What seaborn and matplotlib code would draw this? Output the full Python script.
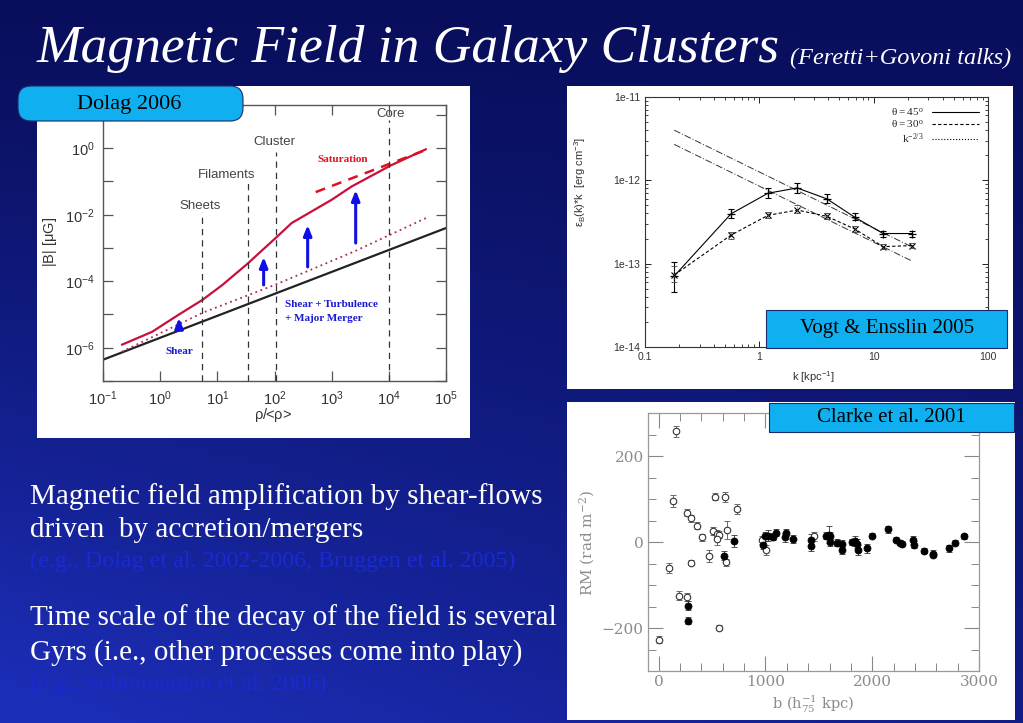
import numpy as np
import matplotlib
matplotlib.use('Agg')
import matplotlib.pyplot as plt
from matplotlib.patches import Rectangle, FancyBboxPatch
from matplotlib.lines import Line2D
from matplotlib.ticker import FuncFormatter, FixedLocator, NullLocator, NullFormatter, LogLocator, MultipleLocator
import seaborn as sns

W, H = 1023, 723

# Dolag 2006 panel, values as log10(rho/<rho>) and log10(|B| / muG) ----------
rho_red = [-0.67, -0.14, 0.32, 0.74, 1.09, 1.53, 1.79, 2.02, 2.30, 2.60, 3.00, 3.35, 4.03, 4.65]
b_red = [-5.91, -5.52, -5.01, -4.56, -4.11, -3.47, -3.06, -2.70, -2.25, -1.95, -1.55, -1.15, -0.52, -0.03]
rho_dot = [-0.67, 0.74, 2.02, 3.40, 4.65]
b_dot = [-6.12, -4.95, -4.10, -3.10, -2.10]
rho_black = [-1.0, 5.0]
b_black = [-6.36, -2.40]
rho_sat = [2.72, 4.68]
b_sat = [-1.32, -0.03]
arrow_rho = [0.33, 1.81, 2.58, 3.42]
arrow_from = [-5.37, -4.11, -3.57, -2.85]
arrow_to = [-5.10, -3.27, -2.31, -1.26]
regions = ['Sheets', 'Filaments', 'Cluster', 'Core']
region_rho = [0.74, 1.53, 2.03, 4.00]
region_top = [-1.92, -1.02, -0.10, 0.85]
region_lab_x = [0.70, 1.16, 2.00, 4.03]
region_lab_y = [-1.75, -0.81, 0.18, 1.03]

# Vogt & Ensslin 2005 panel -------------------------------------------------
k_pts = [0.18, 0.565, 1.19, 2.14, 3.89, 6.85, 12.1, 21.8]
e45 = [7.1e-14, 3.96e-13, 7.0e-13, 8.1e-13, 6.0e-13, 3.6e-13, 2.3e-13, 2.3e-13]
e45_lo = [4.6e-14, 3.5e-13, 6.1e-13, 7.0e-13, 5.3e-13, 3.3e-13, 2.1e-13, 2.1e-13]
e45_hi = [1.05e-13, 4.5e-13, 8.0e-13, 9.3e-13, 6.8e-13, 4.0e-13, 2.5e-13, 2.5e-13]
e30 = [7.3e-14, 2.2e-13, 3.8e-13, 4.4e-13, 3.7e-13, 2.6e-13, 1.6e-13, 1.65e-13]
e30_lo = [6.0e-14, 2.0e-13, 3.5e-13, 4.0e-13, 3.4e-13, 2.4e-13, 1.5e-13, 1.55e-13]
e30_hi = [9.3e-14, 2.4e-13, 4.2e-13, 5.0e-13, 4.0e-13, 2.8e-13, 1.7e-13, 1.75e-13]
k_ref = [0.18, 21.8]
ref_upper = [4.0e-12, 1.58e-13]
ref_lower = [2.7e-12, 1.07e-13]

# Clarke et al. 2001 panel: b (kpc), RM (rad m^-2), error -------------------
open_b = [0, 166, 131, 97, 266, 306, 359, 406, 306, 194, 269, 475, 506, 525, 547, 562,
          547, 619, 640, 631, 734, 569, 969, 1006, 1453]
open_rm = [-227, 257, 95, -61, 68, 55, 38, 11, -48, -125, -128, -32, 26, 105, 19, 17,
           7, 105, 28, -47, 77, -199, 5, -18, 13]
open_err = [8, 12, 14, 12, 8, 8, 8, 8, 6, 10, 10, 14, 10, 8, 10, 8, 14, 12, 22, 8, 12, 5, 10, 12, 10]
filled_b = [275, 275, 609, 703, 975, 1000, 1022, 1069, 1100, 1187, 1197, 1259, 1431, 1431,
            1563, 1594, 1603, 1603, 1672, 1719, 1719, 1813, 1838, 1853, 1863, 1953, 2000,
            2147, 2219, 2259, 2281, 2384, 2391, 2484, 2569, 2572, 2719, 2772, 2863]
filled_rm = [-148, -183, -32, 3, -8, 13, 15, 12, 22, 11, 22, 7, 5, -10, 15, 17, 13, -1,
             -2, -4, -19, 0, 2, -4, -18, -15, 15, 30, 5, -2, -4, 5, -6, -20, -27, -30, -15, -2, 13]
filled_err = [10, 8, 10, 14, 8, 10, 12, 8, 8, 10, 8, 10, 14, 12, 8, 20, 10, 8, 8, 8, 10, 8,
              12, 10, 12, 10, 6, 8, 6, 6, 6, 10, 8, 6, 8, 6, 8, 6, 6]

body_lines = ['Magnetic field amplification by shear-flows',
              'driven  by accretion/mergers']
body_cite = '(e.g., Dolag et al. 2002-2006, Bruggen et al. 2005)'
body2_lines = ['Time scale of the decay of the field is several',
               'Gyrs (i.e., other processes come into play)']
body2_cite = '(e.g., Subramanian et al. 2006)'

sns.set_theme(style='ticks')
plt.rcParams['font.family'] = ['Liberation Sans', 'DejaVu Sans']
plt.rcParams['mathtext.default'] = 'regular'


def fbox(l, t, r, b):
    return [l / W, 1 - b / H, (r - l) / W, (b - t) / H]


fig = plt.figure(figsize=(W / 100, H / 100), dpi=100)

# Slide background -----------------------------------------------------------
bg = fig.add_axes([0, 0, 1, 1])
yy, xx = np.mgrid[0:1:240j, 0:1:340j]
t = np.clip(0.05 + 1.0 * yy ** 1.2 * (1 - 0.55 * xx), 0, 1)
dark = np.array([0.03, 0.05, 0.34])
light = np.array([0.11, 0.18, 0.72])
img = dark + t[..., None] * (light - dark)
bg.imshow(img, extent=(0, W, H, 0), aspect='auto', interpolation='bicubic')
bg.set_xlim(0, W)
bg.set_ylim(H, 0)
bg.axis('off')
for (x0, y0, x1, y1) in [(37, 86, 470, 438), (567, 86, 1013, 389), (567, 402, 1015, 720)]:
    bg.add_patch(Rectangle((x0, y0), x1 - x0, y1 - y0, fc='white', ec='none'))

bg.text(37, 49, 'Magnetic Field in Galaxy Clusters', color='white', fontsize=38.5,
        style='italic', family='Liberation Serif', va='center', ha='left')
bg.text(790, 58, '(Feretti+Govoni talks)', color='white', fontsize=17.5,
        style='italic', family='Liberation Serif', va='center', ha='left')
for txt, yc in zip(body_lines, [497, 530]):
    bg.text(30, yc, txt, color='white', fontsize=21, family='Liberation Serif', va='center')
bg.text(30, 561, body_cite, color='#1a29d2', fontsize=17.3, family='Liberation Serif', va='center')
for txt, yc in zip(body2_lines, [618, 653]):
    bg.text(30, yc, txt, color='white', fontsize=21, family='Liberation Serif', va='center')
bg.text(30, 684, body2_cite, color='#1a29d2', fontsize=17.3, family='Liberation Serif', va='center')

# Left panel: Dolag 2006 -----------------------------------------------------
axL = fig.add_axes(fbox(103, 105, 446, 381))
axL.set_xscale('log')
axL.set_yscale('log')
sns.lineplot(x=10.0 ** np.array(rho_black), y=10.0 ** np.array(b_black), ax=axL,
             color='#222222', lw=1.6)
sns.lineplot(x=10.0 ** np.array(rho_dot), y=10.0 ** np.array(b_dot), ax=axL,
             color='#b02850', lw=1.3, linestyle=(0, (1, 2)))
sns.lineplot(x=10.0 ** np.array(rho_red), y=10.0 ** np.array(b_red), ax=axL,
             color='#c8103a', lw=1.6)
sns.lineplot(x=10.0 ** np.array(rho_sat), y=10.0 ** np.array(b_sat), ax=axL,
             color='#e01020', lw=1.8, linestyle=(0, (4, 3)))
for xr, ytop in zip(region_rho, region_top):
    axL.plot([10 ** xr, 10 ** xr], [1e-7, 10 ** ytop], color='#333333', lw=0.9,
             linestyle=(0, (5, 4)))
for name, xl, yl in zip(regions, region_lab_x, region_lab_y):
    axL.text(10 ** xl, 10 ** yl, name, ha='center', va='center', fontsize=9.5,
             color='#444444', family='Liberation Sans')
for xa, y0, y1 in zip(arrow_rho, arrow_from, arrow_to):
    axL.annotate('', xy=(10 ** xa, 10 ** y1), xytext=(10 ** xa, 10 ** y0),
                 arrowprops=dict(arrowstyle='-|>,head_length=0.5,head_width=0.2',
                                 color='#1010e0', lw=2.2, shrinkA=0, shrinkB=0))
axL.text(10 ** 3.2, 10 ** -0.33, 'Saturation', color='#e01020', fontsize=8,
         weight='bold', family='Liberation Serif', ha='center', va='center')
axL.text(10 ** 2.19, 10 ** -4.7, 'Shear + Turbulence', color='#1a1ad0', fontsize=8,
         weight='bold', family='Liberation Serif', ha='left', va='center')
axL.text(10 ** 2.19, 10 ** -5.13, '+ Major Merger', color='#1a1ad0', fontsize=8,
         weight='bold', family='Liberation Serif', ha='left', va='center')
axL.text(10 ** 0.33, 10 ** -6.12, 'Shear', color='#1a1ad0', fontsize=8,
         weight='bold', family='Liberation Serif', ha='center', va='center')
axL.set_xlim(0.1, 1e5)
axL.set_ylim(1e-7, 10 ** 1.3)
axL.xaxis.set_major_locator(FixedLocator([10.0 ** i for i in range(-1, 6)]))
axL.yaxis.set_major_locator(FixedLocator([10.0 ** i for i in range(-7, 2)]))
axL.xaxis.set_minor_locator(NullLocator())
axL.yaxis.set_minor_locator(NullLocator())
axL.xaxis.set_major_formatter(FuncFormatter(lambda v, p: '10$^{%d}$' % round(np.log10(v))))
axL.yaxis.set_major_formatter(FuncFormatter(
    lambda v, p: '10$^{%d}$' % round(np.log10(v)) if round(np.log10(v)) % 2 == 0 and -7 < round(np.log10(v)) < 1 else ''))
axL.tick_params(which='both', direction='in', length=7, width=0.9, color='#555555',
                top=True, right=True, labelsize=10.5, labelcolor='#333333', pad=6)
for s in axL.spines.values():
    s.set_color('#555555')
    s.set_linewidth(1.0)
axL.set_xlabel('')
axL.set_ylabel('')
axL.text(-0.155, 0.504, '|B| [$\\mu$G]', transform=axL.transAxes, rotation=90,
         ha='center', va='center', fontsize=10.5, color='#333333')
axL.text(0.496, -0.123, '$\\rho$/<$\\rho$>', transform=axL.transAxes,
         ha='center', va='center', fontsize=10.5, color='#333333')

# Top right panel: Vogt & Ensslin 2005 ---------------------------------------
axT = fig.add_axes(fbox(645, 97, 988, 347))
axT.set_xscale('log')
axT.set_yscale('log')
for ref in (ref_upper, ref_lower):
    sns.lineplot(x=k_ref, y=ref, ax=axT, color='#333333', lw=0.7,
                 linestyle=(0, (7, 2, 1, 2)))
sns.lineplot(x=k_pts, y=e45, ax=axT, color='black', lw=0.8, marker='+',
             markersize=6, markeredgewidth=0.9, markeredgecolor='black')
sns.lineplot(x=k_pts, y=e30, ax=axT, color='black', lw=0.8, linestyle=(0, (3, 2)),
             marker='x', markersize=4.5, markeredgewidth=0.8, markeredgecolor='black')
e45a = np.array(e45)
axT.errorbar(k_pts, e45, yerr=[e45a - np.array(e45_lo), np.array(e45_hi) - e45a],
             fmt='none', ecolor='black', elinewidth=0.8, capsize=2.5, capthick=0.8)
e30a = np.array(e30)
eb = axT.errorbar(k_pts, e30, yerr=[e30a - np.array(e30_lo), np.array(e30_hi) - e30a],
                  fmt='none', ecolor='#444444', elinewidth=0.7, capsize=2.5, capthick=0.6)
eb[2][0].set_linestyle(':')
axT.set_xlim(0.1, 100)
axT.set_ylim(1e-14, 1e-11)
axT.xaxis.set_major_locator(FixedLocator([0.1, 1, 10, 100]))
axT.xaxis.set_major_formatter(FuncFormatter(lambda v, p: '%g' % v))
axT.yaxis.set_major_locator(FixedLocator([1e-14, 1e-13, 1e-12, 1e-11]))
axT.yaxis.set_major_formatter(FuncFormatter(lambda v, p: '1e%d' % round(np.log10(v))))
axT.xaxis.set_minor_locator(LogLocator(base=10, subs=np.arange(2, 10)))
axT.yaxis.set_minor_locator(LogLocator(base=10, subs=np.arange(2, 10)))
axT.xaxis.set_minor_formatter(NullFormatter())
axT.yaxis.set_minor_formatter(NullFormatter())
axT.tick_params(which='major', direction='in', length=4, width=0.7, top=True, right=True,
                labelsize=7.5, labelcolor='#333333', color='#222222')
axT.tick_params(which='minor', direction='in', length=2, width=0.6, top=True, right=True,
                color='#222222')
for s in axT.spines.values():
    s.set_color('#333333')
    s.set_linewidth(0.8)
axT.set_xlabel('')
axT.set_ylabel('')
axT.text(-0.19, 0.66, '$\\epsilon_B$(k)*k  [erg cm$^{-3}$]', transform=axT.transAxes,
         rotation=90, ha='center', va='center', fontsize=8, color='#333333')
axT.text(0.49, -0.12, 'k [kpc$^{-1}$]', transform=axT.transAxes,
         ha='center', va='center', fontsize=8, color='#333333')
leg_handles = [Line2D([], [], color='black', lw=0.8),
               Line2D([], [], color='black', lw=0.8, linestyle=(0, (3, 2))),
               Line2D([], [], color='black', lw=0.8, linestyle=':')]
leg_labels = ['$\\theta = 45^o$', '$\\theta = 30^o$', 'k$^{-2/3}$']
axT.legend(leg_handles, leg_labels, loc='upper right', markerfirst=False, frameon=False,
           prop={'family': 'Liberation Serif', 'size': 8}, handlelength=4.2,
           labelspacing=0.05, borderaxespad=0.4, handletextpad=0.8)

# Bottom right panel: Clarke et al. 2001 -------------------------------------
axB = fig.add_axes(fbox(648, 413, 979, 671))
axB.errorbar(open_b, open_rm, yerr=open_err, fmt='none', ecolor='#555555',
             elinewidth=0.6, capsize=2, capthick=0.6)
axB.errorbar(filled_b, filled_rm, yerr=filled_err, fmt='none', ecolor='#333333',
             elinewidth=0.6, capsize=2, capthick=0.6)
sns.scatterplot(x=open_b, y=open_rm, ax=axB, color='white', edgecolor='#333333',
                linewidth=0.8, s=22, zorder=3)
sns.scatterplot(x=filled_b, y=filled_rm, ax=axB, color='black', edgecolor='black',
                linewidth=0.5, s=26, zorder=3)
axB.set_xlim(-100, 3000)
axB.set_ylim(-300, 300)
axB.xaxis.set_major_locator(FixedLocator([0, 1000, 2000, 3000]))
axB.xaxis.set_minor_locator(MultipleLocator(200))
axB.yaxis.set_major_locator(FixedLocator([-200, 0, 200]))
axB.yaxis.set_minor_locator(MultipleLocator(50))
axB.xaxis.set_major_formatter(FuncFormatter(lambda v, p: '%d' % v))
axB.yaxis.set_major_formatter(FuncFormatter(lambda v, p: ('%d' % v).replace('-', '\u2212')))
axB.tick_params(which='major', direction='in', length=11, width=0.8, top=True, right=True,
                labelsize=11, labelcolor='#8c8c8c', color='#888888', pad=3)
axB.tick_params(which='minor', direction='in', length=6, width=0.7, top=True, right=True,
                color='#888888')
for lab in axB.get_xticklabels() + axB.get_yticklabels():
    lab.set_family('DejaVu Serif')
for s in axB.spines.values():
    s.set_color('#999999')
    s.set_linewidth(0.9)
axB.set_xlabel('')
axB.set_ylabel('')
axB.text(-0.184, 0.496, 'RM (rad m$^{-2}$)', transform=axB.transAxes, rotation=90,
         ha='center', va='center', fontsize=11, color='#8c8c8c', family='DejaVu Serif')
axB.text(0.498, -0.13, 'b (h$_{75}^{-1}$ kpc)', transform=axB.transAxes,
         ha='center', va='center', fontsize=10.5, color='#8c8c8c', family='DejaVu Serif')

# Overlay: reference labels --------------------------------------------------
ov = fig.add_axes([0, 0, 1, 1])
ov.set_xlim(0, W)
ov.set_ylim(H, 0)
ov.axis('off')
ov.patch.set_visible(False)
ov.add_patch(FancyBboxPatch((18, 86), 225, 35, boxstyle='round,pad=0,rounding_size=13',
                            fc='#10b0f0', ec='#1a2a70', lw=0.8))
ov.text(129, 104, 'Dolag 2006', fontsize=16, family='Liberation Serif', color='black',
        ha='center', va='center')
ov.add_patch(Rectangle((766, 310), 241, 38, fc='#10b0f0', ec='#1a2a70', lw=0.8))
ov.text(887, 329, 'Vogt & Ensslin 2005', fontsize=15, family='Liberation Serif',
        color='black', ha='center', va='center')
ov.add_patch(Rectangle((769, 403), 245, 29, fc='#10b0f0', ec='#1a2a70', lw=0.8))
ov.text(891, 418, 'Clarke et al. 2001', fontsize=15, family='Liberation Serif',
        color='black', ha='center', va='center')

fig.savefig('out.png', dpi=100)
